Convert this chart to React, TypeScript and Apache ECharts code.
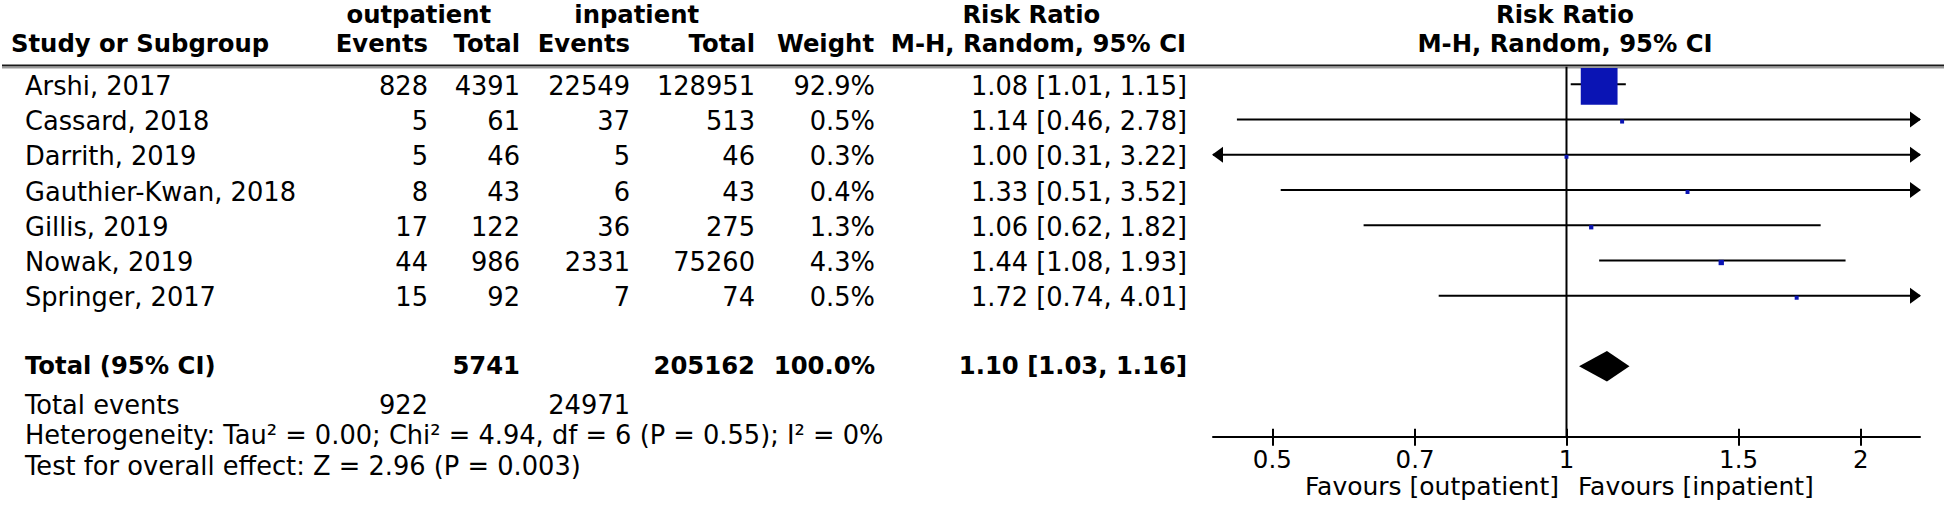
import React, { useEffect, useRef } from 'react';
import * as echarts from 'echarts';

// ---------- data ----------
const studies = ['Arshi, 2017', 'Cassard, 2018', 'Darrith, 2019', 'Gauthier-Kwan, 2018', 'Gillis, 2019', 'Nowak, 2019', 'Springer, 2017'];
const outEvents = [828, 5, 5, 8, 17, 44, 15];
const outTotal = [4391, 61, 46, 43, 122, 986, 92];
const inEvents = [22549, 37, 5, 6, 36, 2331, 7];
const inTotal = [128951, 513, 46, 43, 275, 75260, 74];
const weights = [92.9, 0.5, 0.3, 0.4, 1.3, 4.3, 0.5];
const riskRatio = [1.08, 1.14, 1.0, 1.33, 1.06, 1.44, 1.72];
const ciLow = [1.01, 0.46, 0.31, 0.51, 0.62, 1.08, 0.74];
const ciHigh = [1.15, 2.78, 3.22, 3.52, 1.82, 1.93, 4.01];

const totalLabel = 'Total (95% CI)';
const totalOutN = 5741;
const totalInN = 205162;
const totalWeight = 100.0;
const totalRR = [1.1, 1.03, 1.16]; // estimate, low, high
const totalEventsLabel = 'Total events';
const totalEvents = [922, 24971];
const heterogeneityText = 'Heterogeneity: Tau² = 0.00; Chi² = 4.94, df = 6 (P = 0.55); I² = 0%';
const overallText = 'Test for overall effect: Z = 2.96 (P = 0.003)';

const tickValues = [0.5, 0.7, 1, 1.5, 2];
const tickLabels = ['0.5', '0.7', '1', '1.5', '2'];
const axisExtent = [0.4348, 2.3];
const favoursLeft = 'Favours [outpatient]';
const favoursRight = 'Favours [inpatient]';

const groupHeaders = ['outpatient', 'inpatient'];
const colHeaders = ['Study or Subgroup', 'Events', 'Total', 'Events', 'Total', 'Weight', 'M-H, Random, 95% CI'];
const rrHeader = 'Risk Ratio';
const rrSubHeader = 'M-H, Random, 95% CI';

// ---------- layout / style ----------
const FONT = '"DejaVu Sans"';
const FS = 25.7;
const FSB = 24.3;
const FS_FAV = 25;
const BLUE = '#0a14b4';
const COL = { name: 25, e1: 428, n1: 520, e2: 630, n2: 755, w: 875, rr: 1187 };
const TEXT_DY = 1.5;

const LN_MIN = Math.log(axisExtent[0]);
const LN_MAX = Math.log(axisExtent[1]);
const TOTAL_ROW = studies.length + 1;

const fmt2 = (v: number) => v.toFixed(2);
const rrText = (e: number, l: number, h: number) => `${fmt2(e)} [${fmt2(l)}, ${fmt2(h)}]`;

function txt(text: string, x: number, y: number, align: string, bold = false, size?: number) {
  const fs = size ?? (bold ? FSB : FS);
  return {
    type: 'text',
    x,
    y,
    silent: true,
    style: {
      text,
      fill: '#000',
      font: `${bold ? 'bold ' : ''}${fs}px ${FONT}`,
      align,
      verticalAlign: 'middle',
      textAlign: align,
      textVerticalAlign: 'middle',
    },
  };
}

export default function App() {
  const ref = useRef<HTMLDivElement>(null);

  useEffect(() => {
    if (!ref.current) return;
    const chart = echarts.init(ref.current, undefined, { renderer: 'svg' });

    const ciData = studies.map((_, i) => [
      Math.log(riskRatio[i]), i, Math.log(ciLow[i]), Math.log(ciHigh[i]), weights[i],
    ]);
    const textData = studies.map((_, i) => [0, i]);
    const totalData = [[Math.log(totalRR[0]), TOTAL_ROW, Math.log(totalRR[1]), Math.log(totalRR[2])]];

    const tickLn = tickValues.map((v) => Math.log(v));
    const labelFor = (v: number) => {
      const idx = tickLn.findIndex((t) => Math.abs(t - v) < 1e-6);
      return idx >= 0 ? tickLabels[idx] : '';
    };

    const option: any = {
      animation: false,
      grid: { left: 1213, top: 66.7, width: 707, height: 370, containLabel: false, outerBoundsMode: 'none' },
      xAxis: [
        {
          type: 'value',
          min: LN_MIN,
          max: LN_MAX,
          position: 'bottom',
          axisLine: { show: true, onZero: false, lineStyle: { color: '#000', width: 2 } },
          axisTick: { show: true, customValues: tickLn, length: 9, inside: false, lineStyle: { color: '#000', width: 2 } },
          axisLabel: {
            show: true,
            customValues: tickLn,
            formatter: labelFor,
            color: '#000',
            fontSize: 24.5,
            fontFamily: 'DejaVu Sans',
            margin: 10,
          },
          splitLine: { show: false },
        },
        {
          type: 'value',
          min: LN_MIN,
          max: LN_MAX,
          position: 'bottom',
          axisLine: { show: false, onZero: false },
          axisTick: { show: true, customValues: tickLn, length: 8, inside: true, lineStyle: { color: '#000', width: 2 } },
          axisLabel: { show: false },
          splitLine: { show: false },
        },
      ],
      yAxis: {
        type: 'value',
        min: -0.5,
        max: 10,
        inverse: true,
        show: false,
        axisLine: { show: false, onZero: false },
        splitLine: { show: false },
      },
      series: [
        {
          type: 'line',
          data: [[0, -0.5], [0, 10]],
          symbol: 'none',
          silent: true,
          z: 1,
          lineStyle: { color: '#000', width: 2 },
        },
        {
          type: 'custom',
          clip: false,
          silent: true,
          z: 3,
          encode: { x: 0, y: 1 },
          data: ciData,
          renderItem: (params: any, api: any) => {
            const est = api.value(0);
            const row = api.value(1);
            const l = api.value(2);
            const h = api.value(3);
            const w = api.value(4);
            const pL = api.coord([Math.max(l, LN_MIN), row]);
            const pH = api.coord([Math.min(h, LN_MAX), row]);
            const pE = api.coord([est, row]);
            const children: any[] = [
              { type: 'line', shape: { x1: pL[0], y1: pL[1], x2: pH[0], y2: pH[1] }, style: { stroke: '#000', lineWidth: 2 } },
            ];
            if (h > LN_MAX) {
              children.push({
                type: 'polygon',
                shape: { points: [[pH[0] + 1, pH[1]], [pH[0] - 10, pH[1] - 8], [pH[0] - 10, pH[1] + 8]] },
                style: { fill: '#000' },
              });
            }
            if (l < LN_MIN) {
              children.push({
                type: 'polygon',
                shape: { points: [[pL[0] - 1, pL[1]], [pL[0] + 10, pL[1] - 8], [pL[0] + 10, pL[1] + 8]] },
                style: { fill: '#000' },
              });
            }
            const s = 3.8 + 0.355 * w;
            children.push({
              type: 'rect',
              shape: { x: pE[0] - s / 2, y: pE[1] + 2 - s / 2, width: s, height: s },
              style: { fill: BLUE },
            });
            return { type: 'group', children };
          },
        },
        {
          type: 'custom',
          clip: false,
          silent: true,
          z: 3,
          encode: { x: 0, y: 1 },
          data: totalData,
          renderItem: (params: any, api: any) => {
            const row = api.value(1);
            const pE = api.coord([api.value(0), row]);
            const pL = api.coord([api.value(2), row]);
            const pH = api.coord([api.value(3), row]);
            const hh = 15.3;
            const y = pE[1];
            const ty = y - 2 + TEXT_DY;
            return {
              type: 'group',
              children: [
                {
                  type: 'polygon',
                  shape: { points: [[pL[0], y], [pE[0], y - hh], [pH[0], y], [pE[0], y + hh]] },
                  style: { fill: '#000' },
                },
                txt(totalLabel, COL.name, ty, 'left', true),
                txt(String(totalOutN), COL.n1, ty, 'right', true),
                txt(String(totalInN), COL.n2, ty, 'right', true),
                txt(`${totalWeight.toFixed(1)}%`, COL.w, ty, 'right', true),
                txt(rrText(totalRR[0], totalRR[1], totalRR[2]), COL.rr, ty, 'right', true),
              ],
            };
          },
        },
        {
          type: 'custom',
          clip: false,
          silent: true,
          z: 3,
          encode: { x: 0, y: 1 },
          data: textData,
          renderItem: (params: any, api: any) => {
            const i = params.dataIndex;
            const y = api.coord([0, api.value(1)])[1] + TEXT_DY;
            return {
              type: 'group',
              children: [
                txt(studies[i], COL.name, y, 'left'),
                txt(String(outEvents[i]), COL.e1, y, 'right'),
                txt(String(outTotal[i]), COL.n1, y, 'right'),
                txt(String(inEvents[i]), COL.e2, y, 'right'),
                txt(String(inTotal[i]), COL.n2, y, 'right'),
                txt(`${weights[i].toFixed(1)}%`, COL.w, y, 'right'),
                txt(rrText(riskRatio[i], ciLow[i], ciHigh[i]), COL.rr, y, 'right'),
              ],
            };
          },
        },
      ],
      graphic: {
        elements: [
          { type: 'line', silent: true, shape: { x1: 2, y1: 65.5, x2: 1944, y2: 65.5 }, style: { stroke: '#1a1a1a', lineWidth: 2 } },
          { type: 'line', silent: true, shape: { x1: 2, y1: 67.8, x2: 1944, y2: 67.8 }, style: { stroke: '#9a9a9a', lineWidth: 1.5 } },
          txt(groupHeaders[0], 418.8, 14, 'center', true),
          txt(groupHeaders[1], 636.7, 14, 'center', true),
          txt(rrHeader, 1031.3, 14, 'center', true),
          txt(rrHeader, 1565, 14, 'center', true),
          txt(colHeaders[0], 11, 43.5, 'left', true),
          txt(colHeaders[1], COL.e1, 43.5, 'right', true),
          txt(colHeaders[2], COL.n1, 43.5, 'right', true),
          txt(colHeaders[3], COL.e2, 43.5, 'right', true),
          txt(colHeaders[4], COL.n2, 43.5, 'right', true),
          txt(colHeaders[5], COL.w - 1, 43.5, 'right', true),
          txt(colHeaders[6], COL.rr - 1, 43.5, 'right', true),
          txt(rrSubHeader, 1565, 43.5, 'center', true),
          txt(totalEventsLabel, COL.name, 405, 'left'),
          txt(String(totalEvents[0]), COL.e1, 405, 'right'),
          txt(String(totalEvents[1]), COL.e2, 405, 'right'),
          txt(heterogeneityText, COL.name, 435, 'left'),
          txt(overallText, COL.name, 466, 'left'),
          txt(favoursLeft, 1559, 486.5, 'right', false, FS_FAV),
          txt(favoursRight, 1578, 486.5, 'left', false, FS_FAV),
        ],
      },
    };

    chart.setOption(option);
    return () => chart.dispose();
  }, []);

  return (
    <div
      ref={ref}
      style={{ position: 'absolute', left: 0, top: 0, width: 1946, height: 506, background: '#fff' }}
    />
  );
}
